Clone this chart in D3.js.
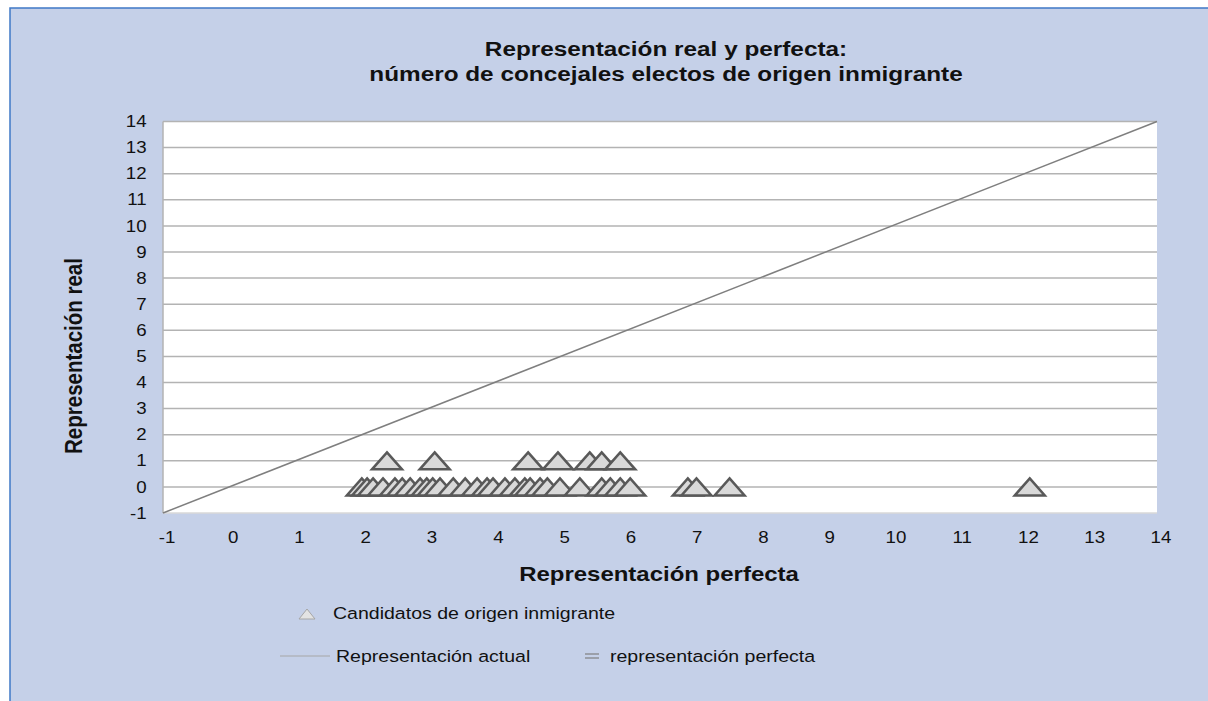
<!DOCTYPE html>
<html lang="es">
<meta charset="utf-8">
<style>
    html, body {
        margin: 0;
        padding: 0;
        background: #fff;
    }
    svg text {
        font-family: "Liberation Sans", Arial, sans-serif;
        fill: #111;
    }
</style>
<body>
<svg id="svg" width="1208" height="701"></svg>
<script src="https://cdn.jsdelivr.net/npm/d3@7/dist/d3.min.js"></script>
<script>
    // data
    var titleLines = ["Representación real y perfecta:", "número de concejales electos de origen inmigrante"];
    var xTicks = d3.range(-1, 15);
    var yTicks = d3.range(-1, 15);
    // candidates with one elected councillor (real = 1)
    var perfectOne = [2.38, 3.10, 4.51, 4.96, 5.44, 5.62, 5.90];
    // candidates with no elected councillor (real = 0)
    var perfectZero = [2.0, 2.08, 2.17, 2.32, 2.50, 2.61, 2.73, 2.88, 2.98, 3.07, 3.18, 3.38,
                       3.56, 3.74, 3.89, 3.98, 4.16, 4.31, 4.46, 4.54, 4.69, 4.80, 4.99, 5.29,
                       5.62, 5.75, 5.90, 6.05, 6.92, 7.05, 7.55, 12.08];
    var legendLabels = ["Candidatos de origen inmigrante", "Representación actual", "representación perfecta"];

    var points = perfectOne.map(v => ({x: v, y: 1}))
        .concat(perfectZero.map(v => ({x: v, y: 0})));

    var sx = 1.17; // the original text is a little wider than it is tall
    var svg = d3.select("svg");
    var plot = {left: 163, right: 1157, top: 121.5, bottom: 513};

    // panel background
    svg.append("rect")
        .attr("x", 10).attr("y", 8)
        .attr("width", 1208).attr("height", 701)
        .attr("fill", "#c5d0e8")
        .attr("stroke", "#3f78c6")
        .attr("stroke-width", 1.5);

    var x = d3.scaleLinear().domain([-1, 14]).range([plot.left, plot.right]);
    var y = d3.scaleLinear().domain([-1, 14]).range([plot.bottom, plot.top]);

    svg.append("rect")
        .attr("x", plot.left).attr("y", plot.top)
        .attr("width", plot.right - plot.left).attr("height", plot.bottom - plot.top)
        .attr("fill", "#fff");

    // gridlines
    svg.append("g")
        .selectAll("line").data(yTicks).enter().append("line")
        .attr("x1", plot.left).attr("x2", plot.right)
        .attr("y1", d => y(d)).attr("y2", d => y(d))
        .attr("stroke", d => d == -1 ? "#d9d9d9" : "#b3b3b3")
        .attr("stroke-width", 1.5);

    svg.append("line")
        .attr("x1", plot.left).attr("x2", plot.left)
        .attr("y1", plot.top).attr("y2", plot.bottom)
        .attr("stroke", "#b3b3b3").attr("stroke-width", 1.5);

    // axes (labels only)
    var yAxis = g => g
        .attr("transform", `translate(${plot.left},0)`)
        .call(d3.axisLeft(y).tickValues(yTicks).tickSize(0).tickPadding(14).tickFormat(d => String(d)))
        .call(g => g.select(".domain").remove())
        .call(g => g.selectAll("text").style("font-size", "16px")
            .style("font-family", "Liberation Sans, Arial, sans-serif").attr("fill", "#111")
            .attr("transform", `scale(${sx},1)`));

    var xAxis = g => g
        .attr("transform", `translate(0,${plot.bottom})`)
        .call(d3.axisBottom(x).tickValues(xTicks).tickSize(0).tickPadding(19).tickFormat(d => String(d)))
        .call(g => g.select(".domain").remove())
        .call(g => g.selectAll("text").style("font-size", "16px")
            .style("font-family", "Liberation Sans, Arial, sans-serif").attr("fill", "#111")
            .attr("dx", 3)
            .attr("transform", `scale(${sx},1)`));

    svg.append("g").call(yAxis);
    svg.append("g").call(xAxis);

    // perfect representation line
    svg.append("line")
        .attr("x1", x(-1)).attr("y1", y(-1))
        .attr("x2", x(14)).attr("y2", y(14))
        .attr("stroke", "#7f7f7f").attr("stroke-width", 1.5);

    // triangles
    svg.append("g")
        .selectAll("path").data(points).enter().append("path")
        .attr("d", "M0,-8.5L15,8.5L-15,8.5Z")
        .attr("transform", d => `translate(${x(d.x)},${y(d.y)})`)
        .attr("fill", "#d9d9d9")
        .attr("stroke", "#595959")
        .attr("stroke-width", 2.5)
        .attr("stroke-linejoin", "miter");

    function label(px, py, str, size, opts) {
        opts = opts || {};
        var t = svg.append("text")
            .attr("transform", opts.rotate
                ? `translate(${px},${py}) rotate(-90) scale(1,${sx})`
                : `translate(${px},${py}) scale(${sx},1)`)
            .attr("text-anchor", opts.anchor || "start")
            .style("font-size", size + "px")
            .style("font-weight", opts.bold ? "bold" : "normal")
            .text(str);
        return t;
    }

    // titles
    titleLines.forEach((s, i) => label(666, 56 + i * 25, s, 20.8, {anchor: "middle", bold: true}));
    label(659, 581, "Representación perfecta", 20.5, {anchor: "middle", bold: true});
    label(82, 356, "Representación real", 20.5, {anchor: "middle", bold: true, rotate: true});

    // legend
    svg.append("path")
        .attr("d", "M0,-5L8,5L-8,5Z")
        .attr("transform", "translate(307,614)")
        .attr("fill", "#e3e3e3").attr("stroke", "#a6a6a6").attr("stroke-width", 1);
    label(333, 619, legendLabels[0], 16.7);

    svg.append("line")
        .attr("x1", 280).attr("x2", 330).attr("y1", 656).attr("y2", 656)
        .attr("stroke", "#a6a6a6").attr("stroke-width", 1);
    label(336, 662, legendLabels[1], 16.7);

    svg.selectAll(".eq").data([-2, 2]).enter().append("line")
        .attr("x1", 585).attr("x2", 599)
        .attr("y1", d => 656 + d).attr("y2", d => 656 + d)
        .attr("stroke", "#7f7f7f").attr("stroke-width", 1.2);
    label(610, 662, legendLabels[2], 16.7);
</script>
</body>
</html>
